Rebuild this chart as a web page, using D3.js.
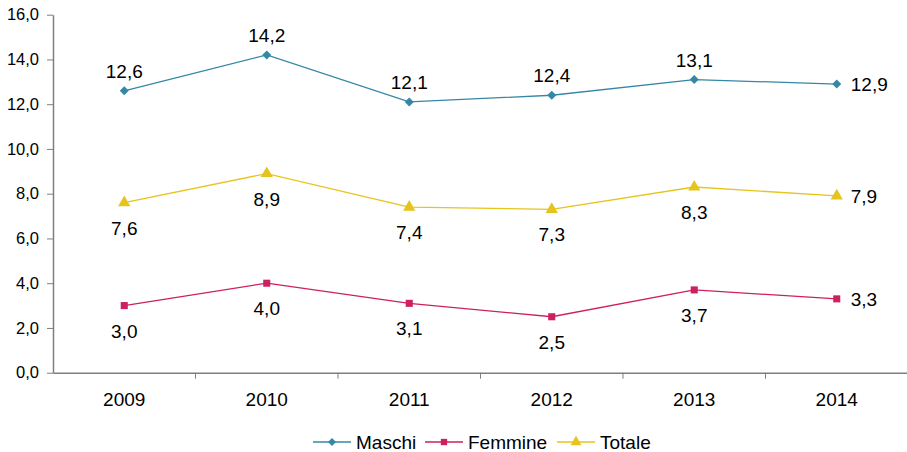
<!DOCTYPE html>
<html>
<head>
<meta charset="utf-8">
<script src="https://cdn.jsdelivr.net/npm/d3@7"></script>
<style>
  body { margin: 0; background: #fff; }
  text { font-family: "Liberation Sans", Arial, sans-serif; fill: #000; }
</style>
</head>
<body>
<div id="chart"></div>
<script>
// Data
const years = ['2009', '2010', '2011', '2012', '2013', '2014'];
const maschi = [12.6, 14.2, 12.1, 12.4, 13.1, 12.9];
const femmine = [3.0, 4.0, 3.1, 2.5, 3.7, 3.3];
const totale = [7.6, 8.9, 7.4, 7.3, 8.3, 7.9];
const yTicks = [0, 2, 4, 6, 8, 10, 12, 14, 16];

const width = 907;
const height = 452;
const plotLeft = 53;
const plotRight = 908;
const plotTop = 14.7;
const plotBottom = 372.7;

const svg = d3
  .select('#chart')
  .append('svg')
  .attr('width', width)
  .attr('height', height);

const fmt = (v) => d3.format('.1f')(v).replace('.', ',');

// Scales
const x = d3.scaleBand().domain(years).range([plotLeft, plotRight]);
const y = d3.scaleLinear().domain([0, 16]).range([plotBottom, plotTop]);

// Y axis
const yAxis = svg
  .append('g')
  .attr('transform', 'translate(' + plotLeft + ',0)')
  .call(d3.axisLeft(y).tickValues(yTicks).tickFormat(fmt).tickSize(6).tickSizeOuter(0));
yAxis.selectAll('text').style('font-size', '16.5px').attr('x', -14);

// X axis
const xAxis = svg
  .append('g')
  .attr('transform', 'translate(0,' + plotBottom + ')')
  .call(d3.axisBottom(x).tickSize(0).tickSizeOuter(0));
xAxis.selectAll('text').style('font-size', '19px').attr('dy', 0).attr('y', 33);
// ticks at category boundaries
xAxis
  .selectAll('.bound')
  .data(years)
  .enter()
  .append('line')
  .attr('x1', (d) => x(d) + x.bandwidth())
  .attr('x2', (d) => x(d) + x.bandwidth())
  .attr('y1', 0)
  .attr('y2', 6)
  .attr('stroke', '#7f7f7f');

svg.selectAll('.domain').attr('stroke', '#7f7f7f').attr('stroke-width', 1.5);
svg.selectAll('.tick line').attr('stroke', '#7f7f7f');

// Series (diamond = rotated square)
const series = [
  { name: 'Maschi', values: maschi, color: '#3587a6', symbol: d3.symbolSquare, size: 40, rot: 45, pos: 'above' },
  { name: 'Femmine', values: femmine, color: '#cc2060', symbol: d3.symbolSquare, size: 50, rot: 0, pos: 'below' },
  { name: 'Totale', values: totale, color: '#e6c41e', symbol: d3.symbolTriangle, size: 65, rot: 0, pos: 'below' },
];

const cx = (i) => x(years[i]) + x.bandwidth() / 2;

series.forEach((s) => {
  const line = d3
    .line()
    .x((d, i) => cx(i))
    .y((d) => y(d));

  svg
    .append('path')
    .datum(s.values)
    .attr('d', line)
    .attr('fill', 'none')
    .attr('stroke', s.color)
    .attr('stroke-width', 1.3);

  svg
    .selectAll('.m-' + s.name)
    .data(s.values)
    .enter()
    .append('path')
    .attr('d', d3.symbol().type(s.symbol).size(s.size))
    .attr('transform', (d, i) => 'translate(' + cx(i) + ',' + y(d) + ') rotate(' + s.rot + ')')
    .attr('fill', s.color);

  svg
    .selectAll('.l-' + s.name)
    .data(s.values)
    .enter()
    .append('text')
    .attr('x', (d, i) => (i === years.length - 1 ? cx(i) + 14 : cx(i)))
    .attr('y', (d, i) => {
      if (i === years.length - 1) return y(d) + 7;
      return s.pos === 'above' ? y(d) - 13 : y(d) + 32;
    })
    .attr('text-anchor', (d, i) => (i === years.length - 1 ? 'start' : 'middle'))
    .style('font-size', '19px')
    .text(fmt);
});

// Legend
const legendX = [313, 425, 557];
const legend = svg
  .selectAll('.legend')
  .data(series)
  .enter()
  .append('g')
  .attr('transform', (d, i) => 'translate(' + legendX[i] + ',442)');

legend
  .append('line')
  .attr('x1', 0)
  .attr('x2', 38)
  .attr('stroke', (d) => d.color)
  .attr('stroke-width', 1.3);

legend
  .append('path')
  .attr('d', (d) => d3.symbol().type(d.symbol).size(d.size * 0.8)())
  .attr('transform', (d) => 'translate(19,0) rotate(' + d.rot + ')')
  .attr('fill', (d) => d.color);

legend
  .append('text')
  .attr('x', 43)
  .attr('y', 6.5)
  .style('font-size', '19px')
  .text((d) => d.name);
</script>
</body>
</html>
